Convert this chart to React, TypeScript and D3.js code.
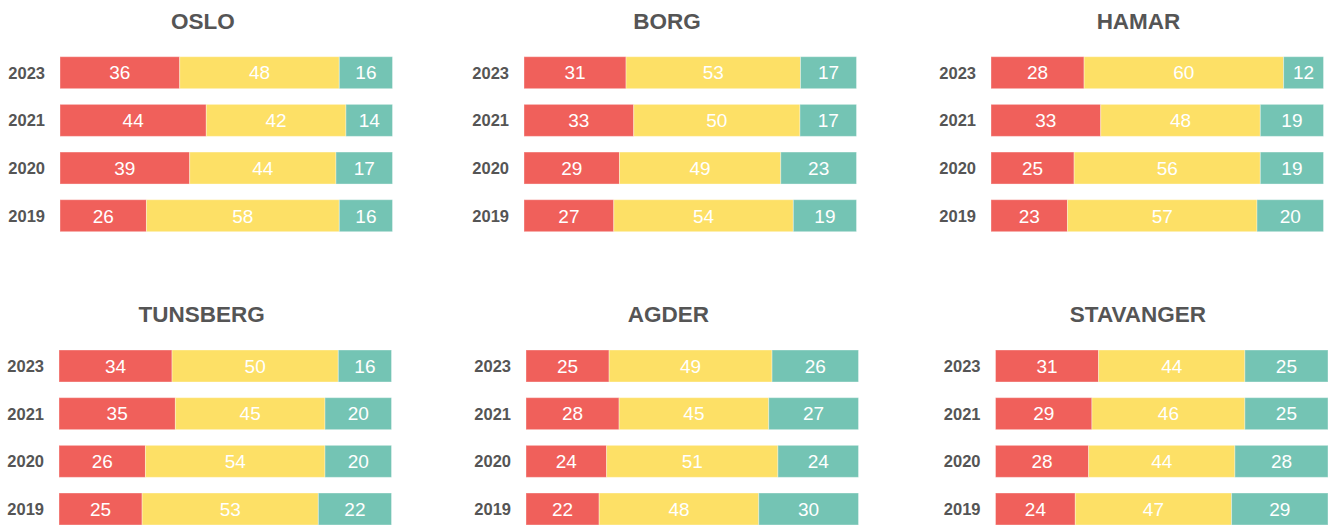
import React from "react";
import * as d3 from "d3";

const years = ["2023", "2021", "2020", "2019"];
const regions = ["OSLO", "BORG", "HAMAR", "TUNSBERG", "AGDER", "STAVANGER"];
const seriesKeys = ["red", "yellow", "teal"];
const seriesColors = ["#F0605B", "#FDE066", "#74C4B4"];

// rows follow `years`; columns follow `seriesKeys`
const oslo = [[36, 48, 16], [44, 42, 14], [39, 44, 17], [26, 58, 16]];
const borg = [[31, 53, 17], [33, 50, 17], [29, 49, 23], [27, 54, 19]];
const hamar = [[28, 60, 12], [33, 48, 19], [25, 56, 19], [23, 57, 20]];
const tunsberg = [[34, 50, 16], [35, 45, 20], [26, 54, 20], [25, 53, 22]];
const agder = [[25, 49, 26], [28, 45, 27], [24, 51, 24], [22, 48, 30]];
const stavanger = [[31, 44, 25], [29, 46, 25], [28, 44, 28], [24, 47, 29]];

const regionData = [oslo, borg, hamar, tunsberg, agder, stavanger];

// layout per panel
const barStarts = [60, 524, 991, 59, 526, 995.5];
const titleCenters = [203, 667, 1138.5, 201.7, 668.3, 1138];
const rowOffsets = [0, 0, 0, 293.3, 293.3, 293.3];
const BAR_W = 332.5;
const FONT = "'Liberation Sans', Arial, Helvetica, sans-serif";

function Panel({ idx }: { idx: number }) {
  const data = regionData[idx];
  const x0 = barStarts[idx];
  const off = rowOffsets[idx];
  const y = d3
    .scaleBand<string>()
    .domain(years)
    .range([56.7 + off, 231.7 + off])
    .paddingInner(0.329)
    .paddingOuter(0);

  const rows = years.map((yr, i) => {
    const obj: any = { year: yr };
    seriesKeys.forEach((k, j) => (obj[k] = data[i][j]));
    return obj;
  });
  const stack = d3.stack<any>().keys(seriesKeys);
  const layers = stack(rows);

  return (
    <g>
      <text
        x={titleCenters[idx]}
        y={29 + off}
        textAnchor="middle"
        fontFamily={FONT}
        fontWeight="bold"
        fontSize={22.5}
        fill="#555555"
      >
        {regions[idx]}
      </text>
      {years.map((yr) => (
        <text
          key={yr}
          x={x0 - 15}
          y={(y(yr) as number) + y.bandwidth() / 2 + 5.9}
          textAnchor="end"
          fontFamily={FONT}
          fontWeight="bold"
          fontSize={16.5}
          fill="#555555"
        >
          {yr}
        </text>
      ))}
      {layers.map((layer, li) =>
        layer.map((d, i) => {
          const total = d3.sum(data[i]);
          const x = d3.scaleLinear().domain([0, total]).range([x0, x0 + BAR_W]);
          const yy = y(years[i]) as number;
          const xa = x(d[0]);
          const xb = x(d[1]);
          return (
            <g key={`${li}-${i}`}>
              <rect
                x={xa}
                y={yy}
                width={xb - xa}
                height={y.bandwidth()}
                fill={seriesColors[li]}
                stroke="#ffffff"
                strokeOpacity={0.35}
                strokeWidth={1}
              />
              <text
                x={(xa + xb) / 2}
                y={yy + y.bandwidth() / 2 + 6.8}
                textAnchor="middle"
                fontFamily={FONT}
                fontSize={19}
                fill="#ffffff"
              >
                {data[i][li]}
              </text>
            </g>
          );
        })
      )}
    </g>
  );
}

export default function App() {
  return (
    <svg
      width={1332}
      height={525}
      style={{ position: "absolute", left: 0, top: 0, background: "#fff" }}
    >
      {regions.map((_, i) => (
        <Panel key={i} idx={i} />
      ))}
    </svg>
  );
}
